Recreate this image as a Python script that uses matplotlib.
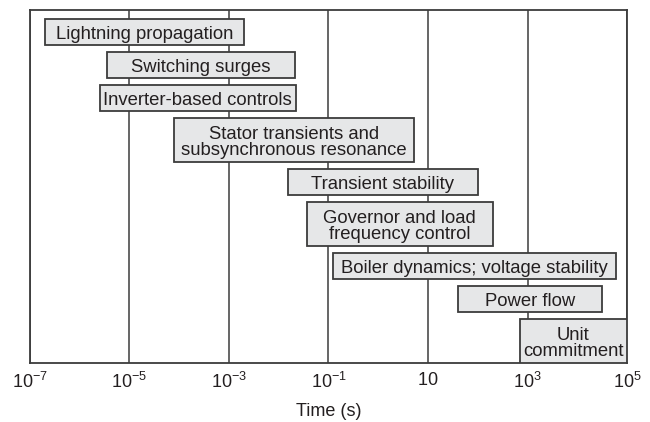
import matplotlib.pyplot as plt
from matplotlib.patches import Rectangle
from matplotlib.ticker import FixedLocator, FixedFormatter, NullLocator

# phenomena and their time-scale range (seconds)
phenomena = [
    'Lightning propagation',
    'Switching surges',
    'Inverter-based controls',
    'Stator transients and\nsubsynchronous resonance',
    'Transient stability',
    'Governor and load\nfrequency control',
    'Boiler dynamics; voltage stability',
    'Power flow',
    'Unit\ncommitment',
]
t_start = [2.0e-7, 3.5e-6, 2.5e-6, 8.0e-5, 1.5e-2, 3.7e-2, 0.125, 40, 700]
t_end = [2.0e-3, 2.1e-2, 2.2e-2, 5.2, 100, 200, 6.0e4, 3.1e4, 1.0e5]

tick_values = [1e-7, 1e-5, 1e-3, 1e-1, 10, 1e3, 1e5]
tick_labels = [r'$10^{-7}$', r'$10^{-5}$', r'$10^{-3}$', r'$10^{-1}$',
               r'$10$', r'$10^{3}$', r'$10^{5}$']

plt.rcParams['font.family'] = ['Liberation Sans', 'DejaVu Sans']
plt.rcParams['mathtext.fontset'] = 'custom'
plt.rcParams['mathtext.rm'] = 'Liberation Sans'
plt.rcParams['mathtext.it'] = 'Liberation Sans:italic'
plt.rcParams['mathtext.default'] = 'regular'

line_col = '#3c3c3c'
text_col = '#231f20'
box_fill = '#e6e7e8'

W, H = 650, 422
fig = plt.figure(figsize=(W / 100, H / 100), dpi=100)
ax_left, ax_right, ax_top, ax_bottom = 30, 627, 9.5, 363.3
ax = fig.add_axes([ax_left / W, (H - ax_bottom) / H,
                   (ax_right - ax_left) / W, (ax_bottom - ax_top) / H])
axis_h = ax_bottom - ax_top

ax.set_xscale('log')
ax.set_xlim(tick_values[0], tick_values[-1])
ax.set_ylim(axis_h, 0)

# row layout in pixel-like units: one-line boxes 26 tall, two-line 44 tall
gap = 7.0
top = 9.5
for i, (name, t0, t1) in enumerate(zip(phenomena, t_start, t_end)):
    h = 26 if '\n' not in name else 44
    if i == len(phenomena) - 1:
        h = axis_h - top
    ax.add_patch(Rectangle((t0, top), t1 - t0, h, facecolor=box_fill,
                           edgecolor=line_col, linewidth=1.3, zorder=3))
    ax.text((t0 * t1) ** 0.5, top + h / 2 + 2.5, name, ha='center',
            va='center', fontsize=13.3, color=text_col, linespacing=0.92,
            zorder=4)
    top += h + gap

ax.xaxis.set_major_locator(FixedLocator(tick_values))
ax.xaxis.set_major_formatter(FixedFormatter(tick_labels))
ax.xaxis.set_minor_locator(NullLocator())
ax.yaxis.set_major_locator(NullLocator())
ax.tick_params(axis='x', length=0, pad=6, labelsize=13, labelcolor=text_col)
ax.grid(axis='x', color=line_col, linewidth=1.1, zorder=1)
ax.set_axisbelow(True)
for s in ax.spines.values():
    s.set_color(line_col)
    s.set_linewidth(1.3)
ax.set_xlabel('Time (s)', fontsize=13, color=text_col, labelpad=8)

plt.savefig('out.png', dpi=100)
